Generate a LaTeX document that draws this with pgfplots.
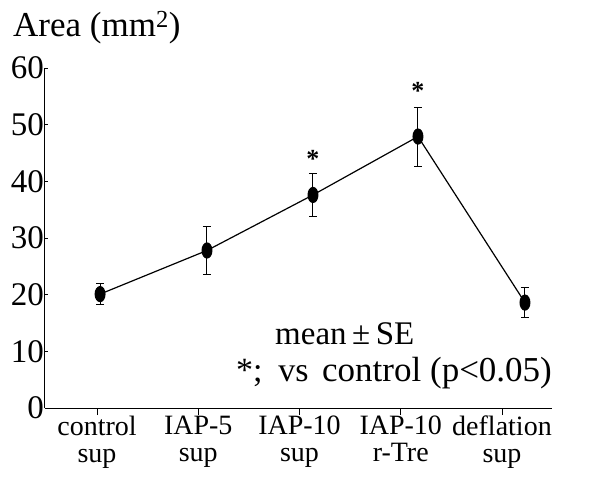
\documentclass[border=0pt]{standalone}
\usepackage{fontspec}
\setmainfont{Liberation Serif}
\usepackage{pgfplots}
\pgfplotsset{compat=1.18}
\usetikzlibrary{calc}

\begin{document}
\begin{tikzpicture}
  \begin{axis}[
    scale only axis, width=507pt, height=340pt,
    xmin=-0.514, xmax=4.494, ymin=0, ymax=60,
    axis lines=left,
    axis line style={-, line width=1pt},
    xtick={0,1,2,3,4},
    xticklabels={control\\sup, IAP-5\\sup, IAP-10\\sup, IAP-10\\r-Tre, deflation\\sup},
    ytick={0,10,...,60},
    major tick length=7pt,
    xtick align=outside, ytick align=inside,
    tick style={line width=0.8pt, black},
    y tick style={/pgfplots/major tick length=3pt},
    /pgf/number format/assume math mode=true,
    yticklabel style={font=\fontsize{33}{33}\selectfont, inner sep=1pt},
    xticklabel style={font=\fontsize{28}{27}\selectfont, align=center, inner sep=1pt},
    clip=false,
    ]
    \addplot[black, line width=1.2pt, mark=*, mark size=7.5pt,
      mark options={xscale=0.65, solid, fill=black},
      error bars/.cd, y dir=both, y explicit,
      error bar style={line width=1pt},
      error mark options={rotate=90, mark size=4pt, line width=1pt}]
      coordinates {
        (0.03,20.1)  +- (0,1.8)
        (1.086,27.8) +- (0,4.2)
        (2.133,37.6) +- (0,3.8)
        (3.17,47.9)  +- (0,5.2)
        (4.227,18.6) +- (0,2.7)
      };
    % significance marks
    \node[font=\fontsize{26}{26}\selectfont\bfseries] at (axis cs:2.133,44.0) {*};
    \node[font=\fontsize{26}{26}\selectfont\bfseries] at (axis cs:3.17,56.0) {*};
    % note
    \node[anchor=base west, font=\fontsize{33}{33}\selectfont, inner sep=0pt]
      at (axis cs:1.758,11.12) {mean\,±\,SE};
    \node[anchor=base west, font=\fontsize{34}{34}\selectfont, inner sep=0pt]
      at (axis cs:1.373,4.59) {*;};
    \node[anchor=base west, font=\fontsize{34}{34}\selectfont, inner sep=0pt]
      at (axis cs:1.788,4.59) {vs};
    \node[anchor=base west, font=\fontsize{35}{35}\selectfont, inner sep=0pt]
      at (axis cs:2.222,4.59) {control (p<0.05)};
    \node[anchor=base west, font=\fontsize{35}{35}\selectfont, inner sep=0pt]
      at ([xshift=-32pt, yshift=31pt]rel axis cs:0,1) {Area (mm\textsuperscript{2})};
  \end{axis}
  \pgfresetboundingbox
  \path[use as bounding box] ($(current axis.south west)+(-45pt,-71pt)$)
    rectangle ($(current axis.north east)+(59pt,68pt)$);
\end{tikzpicture}
\end{document}
